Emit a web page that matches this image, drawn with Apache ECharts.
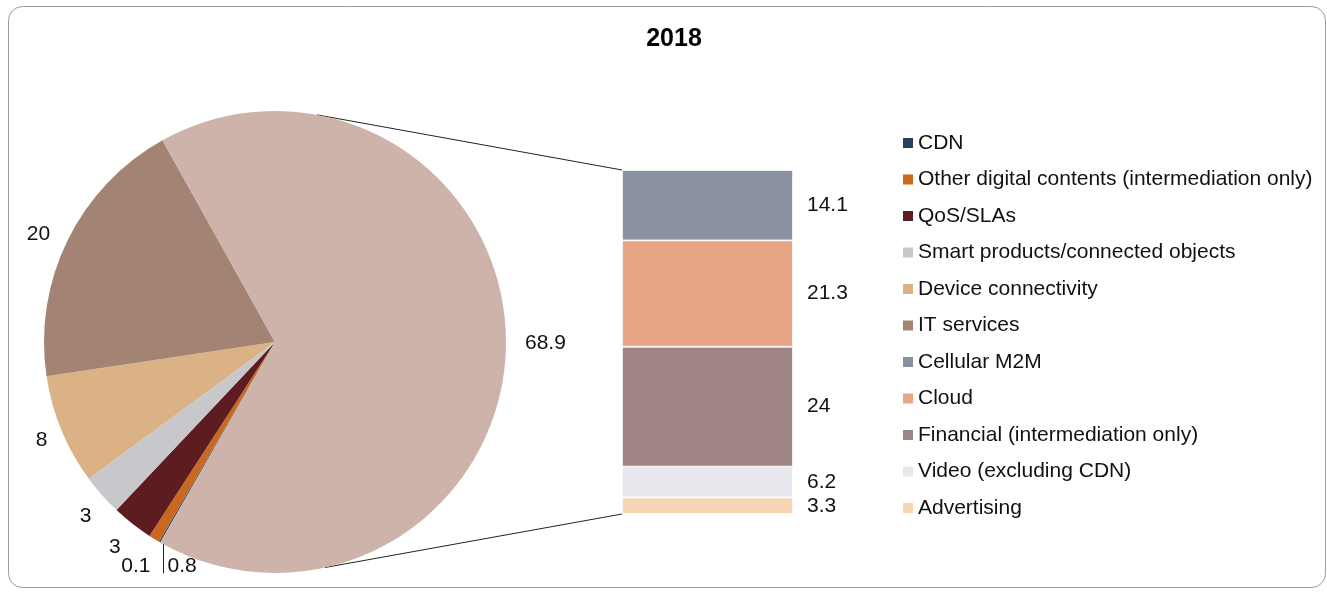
<!DOCTYPE html>
<html>
<head>
<meta charset="utf-8">
<script src="https://cdn.jsdelivr.net/npm/echarts@6/dist/echarts.min.js"></script>
<style>
  html, body { margin: 0; padding: 0; background: #fff; }
  #chart { width: 1327px; height: 593px; }
</style>
</head>
<body>
<div id="chart"></div>
<script>
// pie part (last one is the aggregated slice that is broken out into the bar)
const pieNames = ['CDN', 'Other digital contents (intermediation only)', 'QoS/SLAs',
  'Smart products/connected objects', 'Device connectivity', 'IT services', 'Other'];
const pieValues = [0.1, 0.8, 3, 3, 8, 20, 68.9];
const pieColors = ['#24425f', '#c8691f', '#5c1c20', '#c8c8cc', '#dab286', '#a38474', '#cdb3aa'];

// bar part, bottom to top
const barNames = ['Advertising', 'Video (excluding CDN)', 'Financial (intermediation only)', 'Cloud', 'Cellular M2M'];
const barValues = [3.3, 6.2, 24, 21.3, 14.1];
const barColors = ['#f8d5b3', '#e8e7ee', '#9e8584', '#e9a687', '#8a929f'];

const legendOrder = ['CDN', 'Other digital contents (intermediation only)', 'QoS/SLAs',
  'Smart products/connected objects', 'Device connectivity', 'IT services',
  'Cellular M2M', 'Cloud', 'Financial (intermediation only)', 'Video (excluding CDN)', 'Advertising'];

const FONT = '"Liberation Sans", Arial, sans-serif';
const LABEL_SIZE = 21;
const pieCenter = [275, 342];
const pieRadius = 231;
const startAngle = 240.2;
const barGrid = { left: 622, top: 170, width: 171, height: 344 };
const barTotal = barValues.reduce((a, b) => a + b, 0);

const deg = Math.PI / 180;
const rimPoint = (a) => [pieCenter[0] + pieRadius * Math.cos(a * deg), pieCenter[1] - pieRadius * Math.sin(a * deg)];
// point on the pie rim where the first slice starts; tiny slice labels hang off it
const rimPt = rimPoint(startAngle);
const leaderX = Math.round(rimPt[0]) + 3.5;
// where the connectors leave the big slice
const topPt = rimPoint(79.5);
const botPt = rimPoint(-77.5);

const chart = echarts.init(document.getElementById('chart'), null, { renderer: 'canvas' });

const barSeries = barNames.map((name, i) => ({
  name: name,
  type: 'bar',
  stack: 'other',
  barWidth: '100%',
  data: [barValues[i]],
  itemStyle: { color: barColors[i], borderColor: '#fff', borderWidth: 0.8 },
  label: {
    show: true,
    position: 'right',
    distance: 14,
    color: '#111',
    fontSize: LABEL_SIZE,
    fontFamily: FONT
  },
  silent: true
}));

const option = {
  animation: false,
  textStyle: { fontFamily: FONT },
  title: {
    text: '2018',
    left: 669,
    top: 22,
    textAlign: 'center',
    textStyle: { fontSize: 25, fontWeight: 'bold', color: '#000', fontFamily: FONT }
  },
  legend: {
    orient: 'vertical',
    left: 898,
    top: 126,
    itemWidth: 10,
    itemHeight: 10,
    itemGap: 12.5,
    icon: 'rect',
    data: legendOrder,
    itemStyle: { borderWidth: 0 },
    textStyle: { fontSize: 21, lineHeight: 24, color: '#111', fontFamily: FONT },
    selectedMode: false
  },
  grid: barGrid,
  xAxis: { type: 'category', data: ['Other'], show: false },
  yAxis: { type: 'value', min: 0, max: barTotal, show: false },
  series: [
    {
      type: 'pie',
      center: pieCenter,
      radius: pieRadius,
      startAngle: startAngle,
      clockwise: true,
      avoidLabelOverlap: false,
      data: pieNames.map((n, i) => ({ name: n, value: pieValues[i], itemStyle: { color: pieColors[i] } })),
      label: {
        show: true,
        position: 'outside',
        formatter: '{c}',
        color: '#111',
        fontSize: LABEL_SIZE,
        fontFamily: FONT
      },
      labelLine: { show: false, length: 14, length2: 0 },
      // the two tiny slices get their labels either side of a leader line below the rim
      labelLayout: function (params) {
        if (params.dataIndex === 0) {
          return { x: leaderX - 13, y: rimPt[1] + 24, align: 'right', verticalAlign: 'middle' };
        }
        if (params.dataIndex === 1) {
          return { x: leaderX + 4, y: rimPt[1] + 24, align: 'left', verticalAlign: 'middle' };
        }
        if (params.dataIndex === 2) {
          return { dx: 2, dy: 12 };
        }
        if (params.dataIndex === 3) {
          return { dx: 5, dy: 12 };
        }
        if (params.dataIndex === 4) {
          return { dx: 4, dy: 5 };
        }
        return {};
      },
      silent: true
    },
    ...barSeries
  ],
  graphic: [
    {
      type: 'rect',
      shape: { x: 8.5, y: 6.5, width: 1317, height: 581, r: 14 },
      style: { fill: null, stroke: '#9a9a9a', lineWidth: 1 },
      z: -1,
      silent: true
    },
    {
      type: 'line',
      shape: { x1: topPt[0], y1: topPt[1], x2: barGrid.left, y2: barGrid.top },
      style: { stroke: '#222', lineWidth: 1 },
      silent: true
    },
    {
      type: 'line',
      shape: { x1: botPt[0], y1: botPt[1], x2: barGrid.left, y2: barGrid.top + barGrid.height },
      style: { stroke: '#222', lineWidth: 1 },
      silent: true
    },
    {
      type: 'line',
      shape: { x1: leaderX, y1: rimPt[1] - 1, x2: leaderX, y2: rimPt[1] + 31 },
      style: { stroke: '#222', lineWidth: 1 },
      silent: true
    }
  ]
};

chart.setOption(option);

window.addEventListener('resize', () => chart.resize());
</script>
</body>
</html>
